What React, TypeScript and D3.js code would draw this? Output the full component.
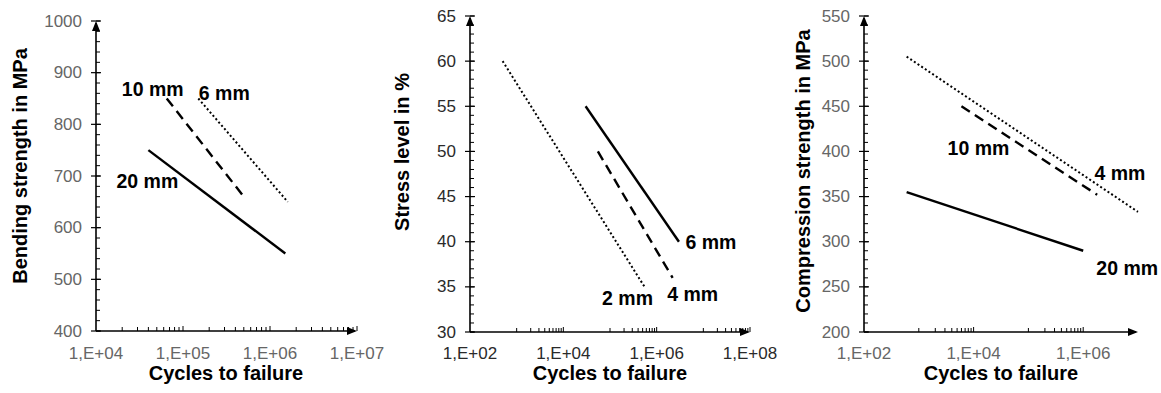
import React, { useEffect, useRef } from 'react';
import * as d3 from 'd3';

// bending strength vs cycles
const bendLabels = ['20 mm', '10 mm', '6 mm'];
const bendCycles = [[4e4, 1.5e6], [6.5e4, 5e5], [1.5e5, 1.6e6]];
const bendValues = [[750, 550], [850, 660], [850, 650]];
const bendXTicks = [1e4, 1e5, 1e6, 1e7];
const bendYTicks = [400, 500, 600, 700, 800, 900, 1000];

// stress level vs cycles
const stressLabels = ['2 mm', '4 mm', '6 mm'];
const stressCycles = [[5e2, 5.5e5], [5.5e4, 2.2e6], [3e4, 3e6]];
const stressValues = [[60, 35], [50, 36], [55, 40]];
const stressXTicks = [1e2, 1e4, 1e6, 1e8];
const stressYTicks = [30, 35, 40, 45, 50, 55, 60, 65];

// compression strength vs cycles
const compLabels = ['4 mm', '10 mm', '20 mm'];
const compCycles = [[6e2, 1e7], [6e3, 1.8e6], [6e2, 1e6]];
const compValues = [[505, 333], [450, 352], [355, 290]];
const compXTicks = [1e2, 1e4, 1e6];
const compYTicks = [200, 250, 300, 350, 400, 450, 500, 550];

const FONT = '"Liberation Sans", Arial, Helvetica, sans-serif';
const DASH = { solid: null, dashed: '10,6', dotted: '2,2.4' };

const panels = [
  {
    yTitle: 'Bending strength in MPa', labels: bendLabels, cycles: bendCycles, values: bendValues,
    xTicks: bendXTicks, yTicks: bendYTicks, xDomain: [1e4, 1e7], yDomain: [400, 1000], yMinor: 20,
    minorDecades: [4, 5, 6], minorK: [2, 3, 4, 5, 6, 7, 8, 9],
    left: 96, right: 357, top: 21, bottom: 331, yTitleX: 20, yTitleY: 166, xTitleX: 226, tickColor: '#666',
    styles: ['solid', 'dashed', 'dotted'],
    // label offset from a line end (idx 0 start, 1 end)
    lab: [{ i: 0, dx: -1, dy: 31 }, { i: 0, dx: -14, dy: -10 }, { i: 0, dx: 26, dy: -6 }],
  },
  {
    yTitle: 'Stress level in %', labels: stressLabels, cycles: stressCycles, values: stressValues,
    xTicks: stressXTicks, yTicks: stressYTicks, xDomain: [1e2, 1e8], yDomain: [30, 65], yMinor: 1,
    minorDecades: [3, 5, 7], minorK: [1, 2, 3, 4, 5, 6, 7, 8, 9],
    left: 470, right: 750, top: 16, bottom: 332, yTitleX: 402, yTitleY: 152, xTitleX: 610, tickColor: '#2a2a2a',
    styles: ['dotted', 'dashed', 'solid'],
    lab: [{ i: 1, dx: -17, dy: 11 }, { i: 1, dx: 20, dy: 16 }, { i: 1, dx: 32, dy: 0 }],
  },
  {
    yTitle: 'Compression strength in MPa', labels: compLabels, cycles: compCycles, values: compValues,
    xTicks: compXTicks, yTicks: compYTicks, xDomain: [1e2, 1e7], yDomain: [200, 550], yMinor: 10,
    minorDecades: [3, 5], minorK: [1, 2, 3, 4, 5, 6, 7, 8, 9],
    left: 864, right: 1138, top: 16, bottom: 332, yTitleX: 803, yTitleY: 171, xTitleX: 1001, tickColor: '#666',
    styles: ['dotted', 'dashed', 'solid'],
    lab: [{ i: 1, dx: -18, dy: -39 }, { i: 0, dx: 17, dy: 42 }, { i: 1, dx: 44, dy: 17 }],
  },
];

const fmtExp = (v: number) => {
  const e = Math.round(Math.log10(v));
  return `1,E+${String(e).padStart(2, '0')}`;
};

export default function App() {
  const ref = useRef(null);
  useEffect(() => {
    const svg = d3.select(ref.current);
    svg.selectAll('*').remove();

    panels.forEach(p => {
      const x = d3.scaleLog().domain(p.xDomain).range([p.left, p.right]);
      const y = d3.scaleLinear().domain(p.yDomain).range([p.bottom, p.top]);
      const g = svg.append('g').attr('font-family', FONT);

      // y minor + major ticks
      const yMinors = d3.range(p.yDomain[0], p.yDomain[1] + 1e-9, p.yMinor);
      g.selectAll('.ymin').data(yMinors).join('line')
        .attr('x1', p.left).attr('x2', p.left + 4)
        .attr('y1', d => y(d)).attr('y2', d => y(d))
        .attr('stroke', '#000').attr('stroke-width', 1);
      g.selectAll('.ymaj').data(p.yTicks).join('line')
        .attr('x1', p.left - 5).attr('x2', p.left + 5)
        .attr('y1', d => y(d)).attr('y2', d => y(d))
        .attr('stroke', '#000').attr('stroke-width', 1.2);
      g.selectAll('.ylab').data(p.yTicks).join('text')
        .attr('x', p.left - 14).attr('y', d => y(d))
        .attr('text-anchor', 'end').attr('dominant-baseline', 'central')
        .attr('font-size', 17).attr('fill', p.tickColor)
        .text(d => d);

      // x minor ticks (log)
      const xMinors = [];
      p.minorDecades.forEach(e => p.minorK.forEach(k => xMinors.push(k * Math.pow(10, e))));
      g.selectAll('.xmin').data(xMinors).join('line')
        .attr('x1', d => x(d)).attr('x2', d => x(d))
        .attr('y1', p.bottom).attr('y2', p.bottom - 4)
        .attr('stroke', '#000').attr('stroke-width', 1);
      g.selectAll('.xmaj').data(p.xTicks.slice(1)).join('line')
        .attr('x1', d => x(d)).attr('x2', d => x(d))
        .attr('y1', p.bottom).attr('y2', p.bottom - 5)
        .attr('stroke', '#000').attr('stroke-width', 1);
      g.selectAll('.xlab').data(p.xTicks).join('text')
        .attr('x', d => x(d)).attr('y', 353)
        .attr('text-anchor', 'middle').attr('dominant-baseline', 'central')
        .attr('font-size', 17).attr('fill', p.tickColor)
        .text(fmtExp);

      // axes with arrow heads
      g.append('line').attr('x1', p.left).attr('x2', p.left)
        .attr('y1', p.bottom).attr('y2', p.top + 2)
        .attr('stroke', '#000').attr('stroke-width', 1.6);
      g.append('line').attr('x1', p.left).attr('x2', p.right - 2)
        .attr('y1', p.bottom).attr('y2', p.bottom)
        .attr('stroke', '#000').attr('stroke-width', 1.6);
      g.append('path')
        .attr('d', `M${p.left},${p.top}L${p.left - 4},${p.top + 10}L${p.left + 4},${p.top + 10}Z`)
        .attr('fill', '#000');
      g.append('path')
        .attr('d', `M${p.right},${p.bottom}L${p.right - 10},${p.bottom - 4}L${p.right - 10},${p.bottom + 4}Z`)
        .attr('fill', '#000');

      // series
      p.labels.forEach((name, si) => {
        const pts = p.cycles[si].map((c, j) => [x(c), y(p.values[si][j])]);
        const st = p.styles[si];
        g.append('path')
          .attr('d', d3.line()(pts as [number, number][]))
          .attr('fill', 'none').attr('stroke', '#000')
          .attr('stroke-width', st === 'dotted' ? 2 : 2.4)
          .attr('stroke-dasharray', DASH[st]);
        const l = p.lab[si];
        g.append('text')
          .attr('x', pts[l.i][0] + l.dx).attr('y', pts[l.i][1] + l.dy)
          .attr('text-anchor', 'middle').attr('dominant-baseline', 'central')
          .attr('font-size', 19.5).attr('font-weight', 'bold').attr('fill', '#000')
          .text(name);
      });

      // titles
      g.append('text')
        .attr('transform', `translate(${p.yTitleX},${p.yTitleY}) rotate(-90)`)
        .attr('text-anchor', 'middle').attr('dominant-baseline', 'central')
        .attr('font-size', 20).attr('font-weight', 'bold').attr('fill', '#000')
        .text(p.yTitle);
      g.append('text')
        .attr('x', p.xTitleX).attr('y', 373)
        .attr('text-anchor', 'middle').attr('dominant-baseline', 'central')
        .attr('font-size', 20).attr('font-weight', 'bold').attr('fill', '#000')
        .text('Cycles to failure');
    });
  }, []);
  return (
    <svg ref={ref} width={1161} height={393}
      style={{ position: 'absolute', left: 0, top: 0, background: '#fff' }} />
  );
}
